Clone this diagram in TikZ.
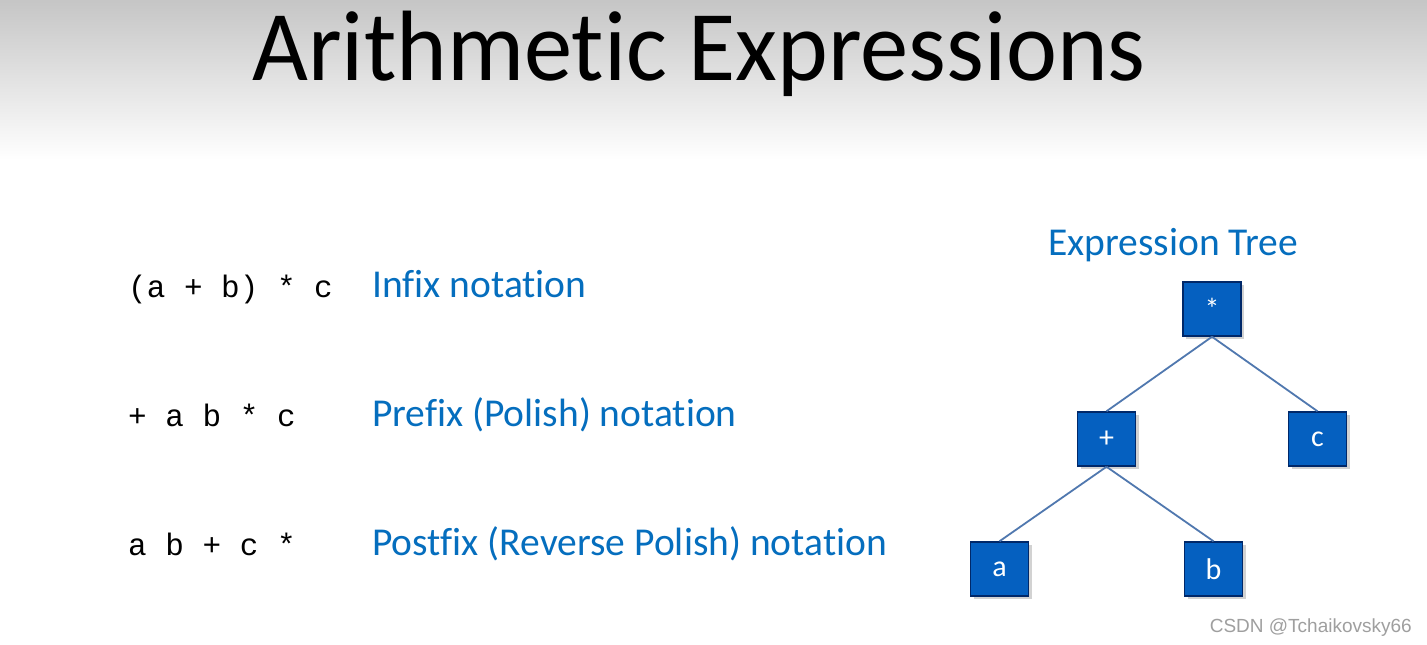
\documentclass[tikz,border=0pt]{standalone}
\usepackage{fontspec}
\setmainfont{Carlito}[Ligatures={NoCommon}]
\newfontfamily\exprmono{Liberation Mono}
\newfontfamily\markfont{Liberation Sans}
\usetikzlibrary{shadows}
\definecolor{notationblue}{RGB}{5,110,190}
\definecolor{boxfill}{RGB}{5,96,192}
\definecolor{boxedge}{RGB}{0,40,105}
\definecolor{edgeblue}{RGB}{80,120,175}
\begin{document}
\begin{tikzpicture}[x=1pt, y=-1pt,
    title/.style={anchor=base, inner sep=0pt, font=\fontsize{100}{110}\selectfont,
        transform shape, xscale=0.965},
    expr/.style={anchor=base west, inner sep=0pt, font=\exprmono\fontsize{31}{36}\selectfont},
    notation/.style={anchor=base west, inner sep=0pt, text=notationblue,
        font=\fontsize{39.5}{44}\selectfont},
    operand/.style={rectangle, draw=boxedge, line width=1.5pt, fill=boxfill,
        text=white, minimum width=58pt, minimum height=54pt, inner sep=0pt,
        font=\fontsize{30}{34}\selectfont,
        drop shadow={shadow xshift=3pt, shadow yshift=-3pt, opacity=0.35}},
    level 1/.style={sibling distance=211pt},
    level 2/.style={sibling distance=214pt, xshift=-4pt},
    level distance=130pt, parent anchor=south, child anchor=north,
    edge from parent/.style={draw=edgeblue, line width=1.8pt}
]
\useasboundingbox (0,0) rectangle (1427,645);
\fill[white] (0,0) rectangle (1427,645);
\shade[top color=gray!45, bottom color=white] (0,0) rectangle (1427,160);

\node (Title) [title] at (699,80) {Arithmetic Expressions};

\node (InfixExpr) [expr] at (128,297) {(a + b) * c};
\node (PrefixExpr) [expr] at (128,426) {+ a b * c};
\node (PostfixExpr) [expr] at (128,555) {a b + c *};

\node (Infix) [notation] at (372,297) {Infix notation};
\node (Prefix) [notation] at (372,426) {Prefix (Polish) notation};
\node (Postfix) [notation] at (372,555) {Postfix (Reverse Polish) notation};

\node (TreeTitle) [notation] at (1048,255) {Expression Tree};

\node (Times) [operand] at (1212,309) {*}
  child {
    node (Plus) [operand] {+}
    child {
      node (A) [operand] {a}
    }
    child {
      node (B) [operand] {b}
    }
  }
  child {
    node (C) [operand] {c}
  }
;

\node (Mark) [anchor=base east, inner sep=0pt, text=gray!75,
    font=\markfont\fontsize{19}{22}\selectfont] at (1412,632) {CSDN @Tchaikovsky66};
\end{tikzpicture}
\end{document}
